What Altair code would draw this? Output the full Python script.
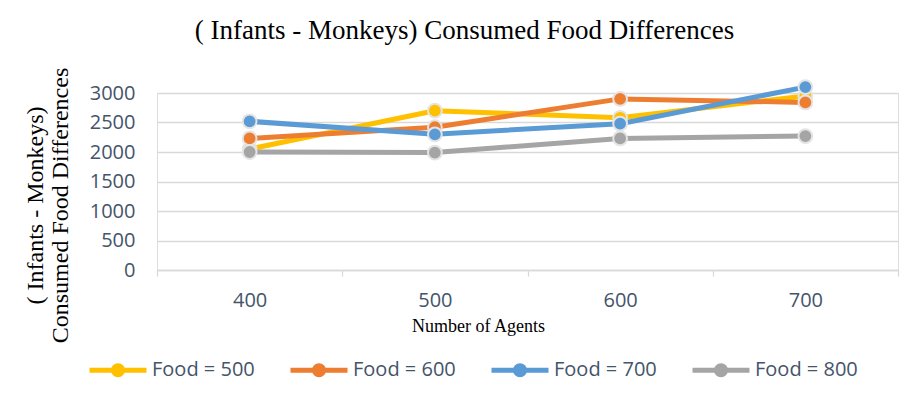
import altair as alt
import pandas as pd

agents = ["400", "500", "600", "700"]
series = ["Food = 500", "Food = 600", "Food = 700", "Food = 800"]
food_500 = [2050, 2700, 2580, 2950]
food_600 = [2230, 2420, 2900, 2840]
food_700 = [2520, 2300, 2480, 3100]
food_800 = [2000, 1990, 2230, 2270]
colors = ["#FFC000", "#ED7D31", "#5B9BD5", "#A5A5A5"]
y_ticks = [0, 500, 1000, 1500, 2000, 2500, 3000]

rows = []
for name, vals in zip(series, [food_500, food_600, food_700, food_800]):
    for a, v in zip(agents, vals):
        rows.append({"agents": a, "value": v, "series": name})
df = pd.DataFrame(rows)

legend_path = "M-1,0L1,0M0.16,0A0.16,0.16,0,1,1,-0.16,0A0.16,0.16,0,1,1,0.16,0Z"

x_enc = alt.X(
    "agents:O",
    sort=agents,
    bandPosition=0.5,
    scale=alt.Scale(type="band", paddingInner=0, paddingOuter=0),
    axis=alt.Axis(
        title="Number of Agents",
        titleFont="Liberation Serif",
        titleFontSize=18,
        titleFontWeight="normal",
        titleColor="#000000",
        titleX=321,
        titleY=56,
        titleBaseline="middle",
        labelAngle=0,
        labelFont="Open Sans",
        labelFontSize=20,
        labelColor="#44546A",
        labelBaseline="middle",
        labelPadding=24,
        tickBand="extent",
        tickSize=6,
        tickColor="#D9D9D9",
        tickWidth=1.3,
        domainColor="#D9D9D9",
        domainWidth=1.3,
        grid=False,
    ),
)
y_enc = alt.Y(
    "value:Q",
    scale=alt.Scale(domain=[0, 3000], nice=False),
    axis=alt.Axis(
        values=y_ticks,
        format="d",
        title=["( Infants - Monkeys)", "Consumed Food Differences"],
        titleFont="Liberation Serif",
        titleFontSize=24,
        titleFontWeight="normal",
        titleColor="#000000",
        titleLineHeight=25,
        titleX=-122,
        titleY=112,
        titleAlign="center",
        titleBaseline="middle",
        titleAngle=-90,
        labelFont="Open Sans",
        labelFontSize=20,
        labelColor="#44546A",
        labelPadding=22,
        ticks=False,
        domain=False,
        gridColor="#D9D9D9",
        gridWidth=1.3,
    ),
)
color_enc = alt.Color(
    "series:N",
    scale=alt.Scale(domain=series, range=colors),
    legend=alt.Legend(
        title=None,
        orient="none",
        legendX=-70,
        legendY=246,
        direction="horizontal",
        columns=4,
        columnPadding=25,
        symbolType=legend_path,
        symbolSize=3249,
        symbolStrokeWidth=5,
        labelFont="Open Sans",
        labelFontSize=20,
        labelColor="#44546A",
        labelOffset=3,
        labelLimit=200,
        padding=0,
    ),
)

lines = alt.Chart(df).mark_line(strokeWidth=5, strokeCap="round", strokeJoin="round").encode(
    x=x_enc, y=y_enc, color=color_enc
)
points = alt.Chart(df).mark_point(filled=True, size=190, stroke="#E4E4E4", strokeWidth=2, opacity=1).encode(
    x=x_enc, y=y_enc, fill=alt.Fill("series:N", scale=alt.Scale(domain=series, range=colors), legend=None)
)

chart = (
    alt.layer(lines, points)
    .properties(
        width=741,
        height=177,
        title=alt.TitleParams(
            text="( Infants - Monkeys) Consumed Food Differences",
            font="Liberation Serif",
            fontSize=27,
            fontWeight="normal",
            color="#000000",
            anchor="middle",
            baseline="alphabetic",
            offset=1,
            dx=-63,
        ),
        autosize=alt.AutoSizeParams(type="none"),
        padding={"left": 157, "top": 93, "right": 17, "bottom": 144},
    )
    .configure_view(stroke=None)
    .configure(background="#FFFFFF")
)

chart.save("out.html", embed_options={"renderer": "svg", "actions": False})
